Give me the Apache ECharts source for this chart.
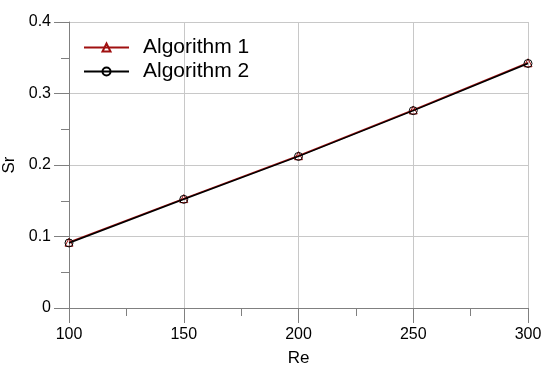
<!DOCTYPE html>
<html>
<head>
<meta charset="utf-8">
<script src="https://cdn.jsdelivr.net/npm/echarts@6/dist/echarts.min.js"></script>
<style>
  html, body { margin: 0; padding: 0; background: #fff; }
  #chart { width: 550px; height: 371px; }
</style>
</head>
<body>
<div id="chart"></div>
<script>
// Re values on the x axis
const re = [100, 150, 200, 250, 300];
// Strouhal number
const algorithm1 = [0.092, 0.153, 0.213, 0.277, 0.343];
const algorithm2 = [0.091, 0.152, 0.212, 0.276, 0.342];

const font = "Liberation Sans, Arial, sans-serif";
const chart = echarts.init(document.getElementById("chart"));

const option = {
  animation: false,
  textStyle: { fontFamily: font },
  grid: { left: 69, right: 22, top: 22, bottom: 63, outerBoundsMode: "none", containLabel: false },
  legend: {
    orient: "vertical",
    left: 78,
    top: 32,
    itemWidth: 45,
    itemHeight: 10,
    itemGap: 3,
    textStyle: { fontSize: 21, color: "#000", padding: [0, 0, 0, 9], lineHeight: 21 },
    data: ["Algorithm 1", "Algorithm 2"]
  },
  xAxis: {
    type: "value",
    min: 100,
    max: 300,
    interval: 50,
    name: "Re",
    nameLocation: "middle",
    nameGap: 42,
    nameTextStyle: { fontSize: 17, color: "#000" },
    axisLine: { show: true, lineStyle: { color: "#808080", width: 1 } },
    axisTick: { show: true, inside: false, length: 15, lineStyle: { color: "#808080" } },
    minorTick: { show: true, splitNumber: 2, length: 8, lineStyle: { color: "#808080" } },
    axisLabel: { fontSize: 16, color: "#000", margin: 19 },
    splitLine: { show: true, lineStyle: { color: "#c8c8c8", width: 1 } }
  },
  yAxis: {
    type: "value",
    min: 0,
    max: 0.4,
    interval: 0.1,
    name: "Sr",
    nameLocation: "middle",
    nameGap: 45,
    nameTextStyle: { fontSize: 17, color: "#000" },
    axisLine: { show: true, lineStyle: { color: "#808080", width: 1 } },
    axisTick: { show: true, inside: false, length: 15, lineStyle: { color: "#808080" } },
    minorTick: { show: true, splitNumber: 2, length: 8, lineStyle: { color: "#808080" } },
    axisLabel: { fontSize: 16, color: "#000", margin: 18 },
    splitLine: { show: true, lineStyle: { color: "#c8c8c8", width: 1 } }
  },
  series: [
    {
      name: "Algorithm 1",
      type: "line",
      data: re.map((x, i) => [x, algorithm1[i]]),
      symbol: "triangle",
      symbolSize: 8,
      lineStyle: { color: "#a01010", width: 1.5 },
      itemStyle: { color: "rgba(255,255,255,0)", borderColor: "#a01010", borderWidth: 1 },
      z: 2
    },
    {
      name: "Algorithm 2",
      type: "line",
      data: re.map((x, i) => [x, algorithm2[i]]),
      symbol: "circle",
      symbolSize: 8,
      lineStyle: { color: "#000", width: 1.5 },
      itemStyle: { color: "rgba(255,255,255,0)", borderColor: "#000", borderWidth: 1 },
      z: 3
    }
  ]
};

chart.setOption(option);
</script>
</body>
</html>
